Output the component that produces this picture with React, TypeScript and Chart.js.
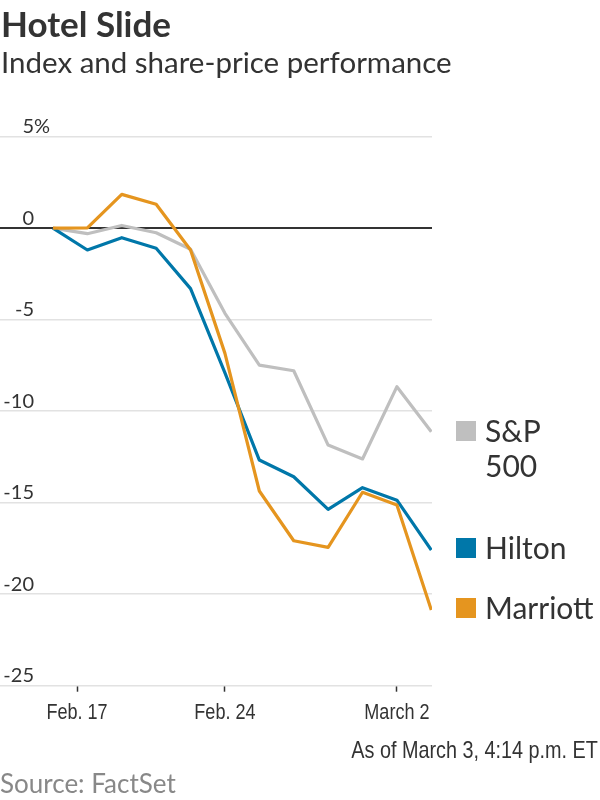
import React, { useEffect, useRef } from "react";
import { Chart, registerables } from "chart.js";

Chart.register(...registerables);

// ---- data ----
const dates = [
  "Feb. 14", "Feb. 18", "Feb. 19", "Feb. 20", "Feb. 21", "Feb. 24",
  "Feb. 25", "Feb. 26", "Feb. 27", "Feb. 28", "March 2", "March 3",
];
const sp500 = [0, -0.3, 0.15, -0.25, -1.15, -4.65, -7.48, -7.79, -11.85, -12.61, -8.66, -11.12];
const hilton = [0, -1.19, -0.52, -1.1, -3.3, -7.9, -12.67, -13.58, -15.36, -14.18, -14.86, -17.59];
const marriott = [0, 0.02, 1.85, 1.31, -1.19, -6.84, -14.36, -17.08, -17.44, -14.43, -15.13, -20.86];
const seriesNames = ["S&P 500", "Hilton", "Marriott"];
const seriesColors = ["#bfbfbf", "#0077a9", "#e5951f"];
const xTickPositions = [0.7, 5, 10];
const xTickLabels = ["Feb. 17", "Feb. 24", "March 2"];
const yMin = -25;
const yMax = 5;
const yStep = 5;

const LATO = "Lato, 'Noto Sans', sans-serif";
const NARROW = "'Liberation Sans', Arial, sans-serif";
const NARROW_SCALE = 0.82;

const axisLabelPlugin = {
  id: "axisLabels",
  afterDraw(chart: any) {
    const ctx = chart.ctx;
    const y = chart.scales.y;
    const x = chart.scales.x;
    ctx.save();
    ctx.font = `20px ${LATO}`;
    ctx.fillStyle = "#333";
    ctx.textBaseline = "alphabetic";
    y.ticks.forEach((t: any) => {
      const py = y.getPixelForValue(t.value);
      ctx.textAlign = "right";
      ctx.fillText(String(t.value), 34, py - 3.5);
      if (t.value === yMax) {
        ctx.textAlign = "left";
        ctx.fillText("%", 34, py - 3.5);
      }
    });
    ctx.font = `22px ${NARROW}`;
    ctx.textAlign = "center";
    x.ticks.forEach((t: any, i: number) => {
      const px = x.getPixelForValue(t.value);
      const label = xTickLabels[xTickPositions.indexOf(Number(t.value))] ?? "";
      ctx.save();
      ctx.translate(px, chart.chartArea.bottom + 33);
      ctx.scale(NARROW_SCALE, 1);
      ctx.fillText(label, 0, 0);
      ctx.restore();
    });
    ctx.restore();
  },
};

function Text({ top, left, right, size, weight, color, family, scaleX, children }: any) {
  const style: any = {
    position: "absolute",
    top,
    fontSize: size,
    lineHeight: 1,
    fontWeight: weight || 400,
    color: color || "#333",
    fontFamily: family || LATO,
    whiteSpace: "nowrap",
    margin: 0,
  };
  if (left !== undefined) style.left = left;
  if (right !== undefined) style.right = right;
  if (scaleX) {
    style.transform = `scaleX(${scaleX})`;
    style.transformOrigin = right !== undefined ? "right center" : "left center";
  }
  return <div style={style}>{children}</div>;
}

export default function App() {
  const canvasRef = useRef<HTMLCanvasElement | null>(null);

  useEffect(() => {
    const seriesValues = [sp500, hilton, marriott];
    const chart = new Chart(canvasRef.current as HTMLCanvasElement, {
      type: "line",
      data: {
        labels: dates,
        datasets: seriesValues.map((vals, k) => ({
          label: seriesNames[k],
          data: vals.map((v, i) => ({ x: i, y: v })),
          borderColor: seriesColors[k],
          backgroundColor: seriesColors[k],
          borderWidth: 3.2,
          pointRadius: 0,
          tension: 0,
          fill: false,
          order: 3 - k,
          borderJoinStyle: "round" as const,
        })),
      },
      options: {
        animation: false,
        responsive: false,
        maintainAspectRatio: false,
        events: [],
        layout: { padding: { left: 0, right: 168, top: 136.7, bottom: 108.3 } },
        plugins: { legend: { display: false }, tooltip: { enabled: false }, title: { display: false } },
        scales: {
          x: {
            type: "linear",
            min: -1.54,
            max: 11.02,
            afterBuildTicks: (scale: any) => {
              scale.ticks = xTickPositions.map((v) => ({ value: v }));
            },
            ticks: { display: false, autoSkip: false },
            grid: {
              display: true,
              drawOnChartArea: false,
              drawTicks: true,
              tickLength: 6,
              tickColor: "#333",
              tickWidth: 1.5,
              color: "#333",
            },
            border: { display: false },
          },
          y: {
            type: "linear",
            min: yMin,
            max: yMax,
            ticks: { stepSize: yStep, display: false },
            grid: {
              drawTicks: false,
              color: (c: any) => (c.tick && c.tick.value === 0 ? "#333" : "#e2e2e2"),
              lineWidth: (c: any) => (c.tick && c.tick.value === 0 ? 2 : 1.5),
            },
            border: { display: false },
          },
        },
      },
      plugins: [axisLabelPlugin],
    });
    return () => chart.destroy();
  }, []);

  const legendItems = [
    { name: ["S&P", "500"], color: seriesColors[0], top: 415.4 },
    { name: [seriesNames[1]], color: seriesColors[1], top: 532.4 },
    { name: [seriesNames[2]], color: seriesColors[2], top: 592.4 },
  ];

  return (
    <div style={{ position: "absolute", left: 0, top: 0, width: 600, height: 800, background: "#fff", overflow: "hidden" }}>
      <canvas ref={canvasRef} width={600} height={800} style={{ position: "absolute", left: 0, top: 0 }} />
      <Text top={6.3} left={1} size={35} weight={700}>Hotel Slide</Text>
      <Text top={46.5} left={1} size={29.5}>Index and share-price performance</Text>
      {legendItems.map((it, i) => (
        <React.Fragment key={i}>
          <div style={{ position: "absolute", left: 456, top: it.top + 6, width: 20, height: 20, background: it.color }} />
          {it.name.map((ln, j) => (
            <Text key={j} top={it.top + j * 35} left={485} size={30}>{ln}</Text>
          ))}
        </React.Fragment>
      ))}
      <Text top={737.7} right={2} size={24} family={NARROW} scaleX={0.825}>As of March 3, 4:14 p.m. ET</Text>
      <Text top={770} left={0} size={26} color="#888">Source: FactSet</Text>
    </div>
  );
}
